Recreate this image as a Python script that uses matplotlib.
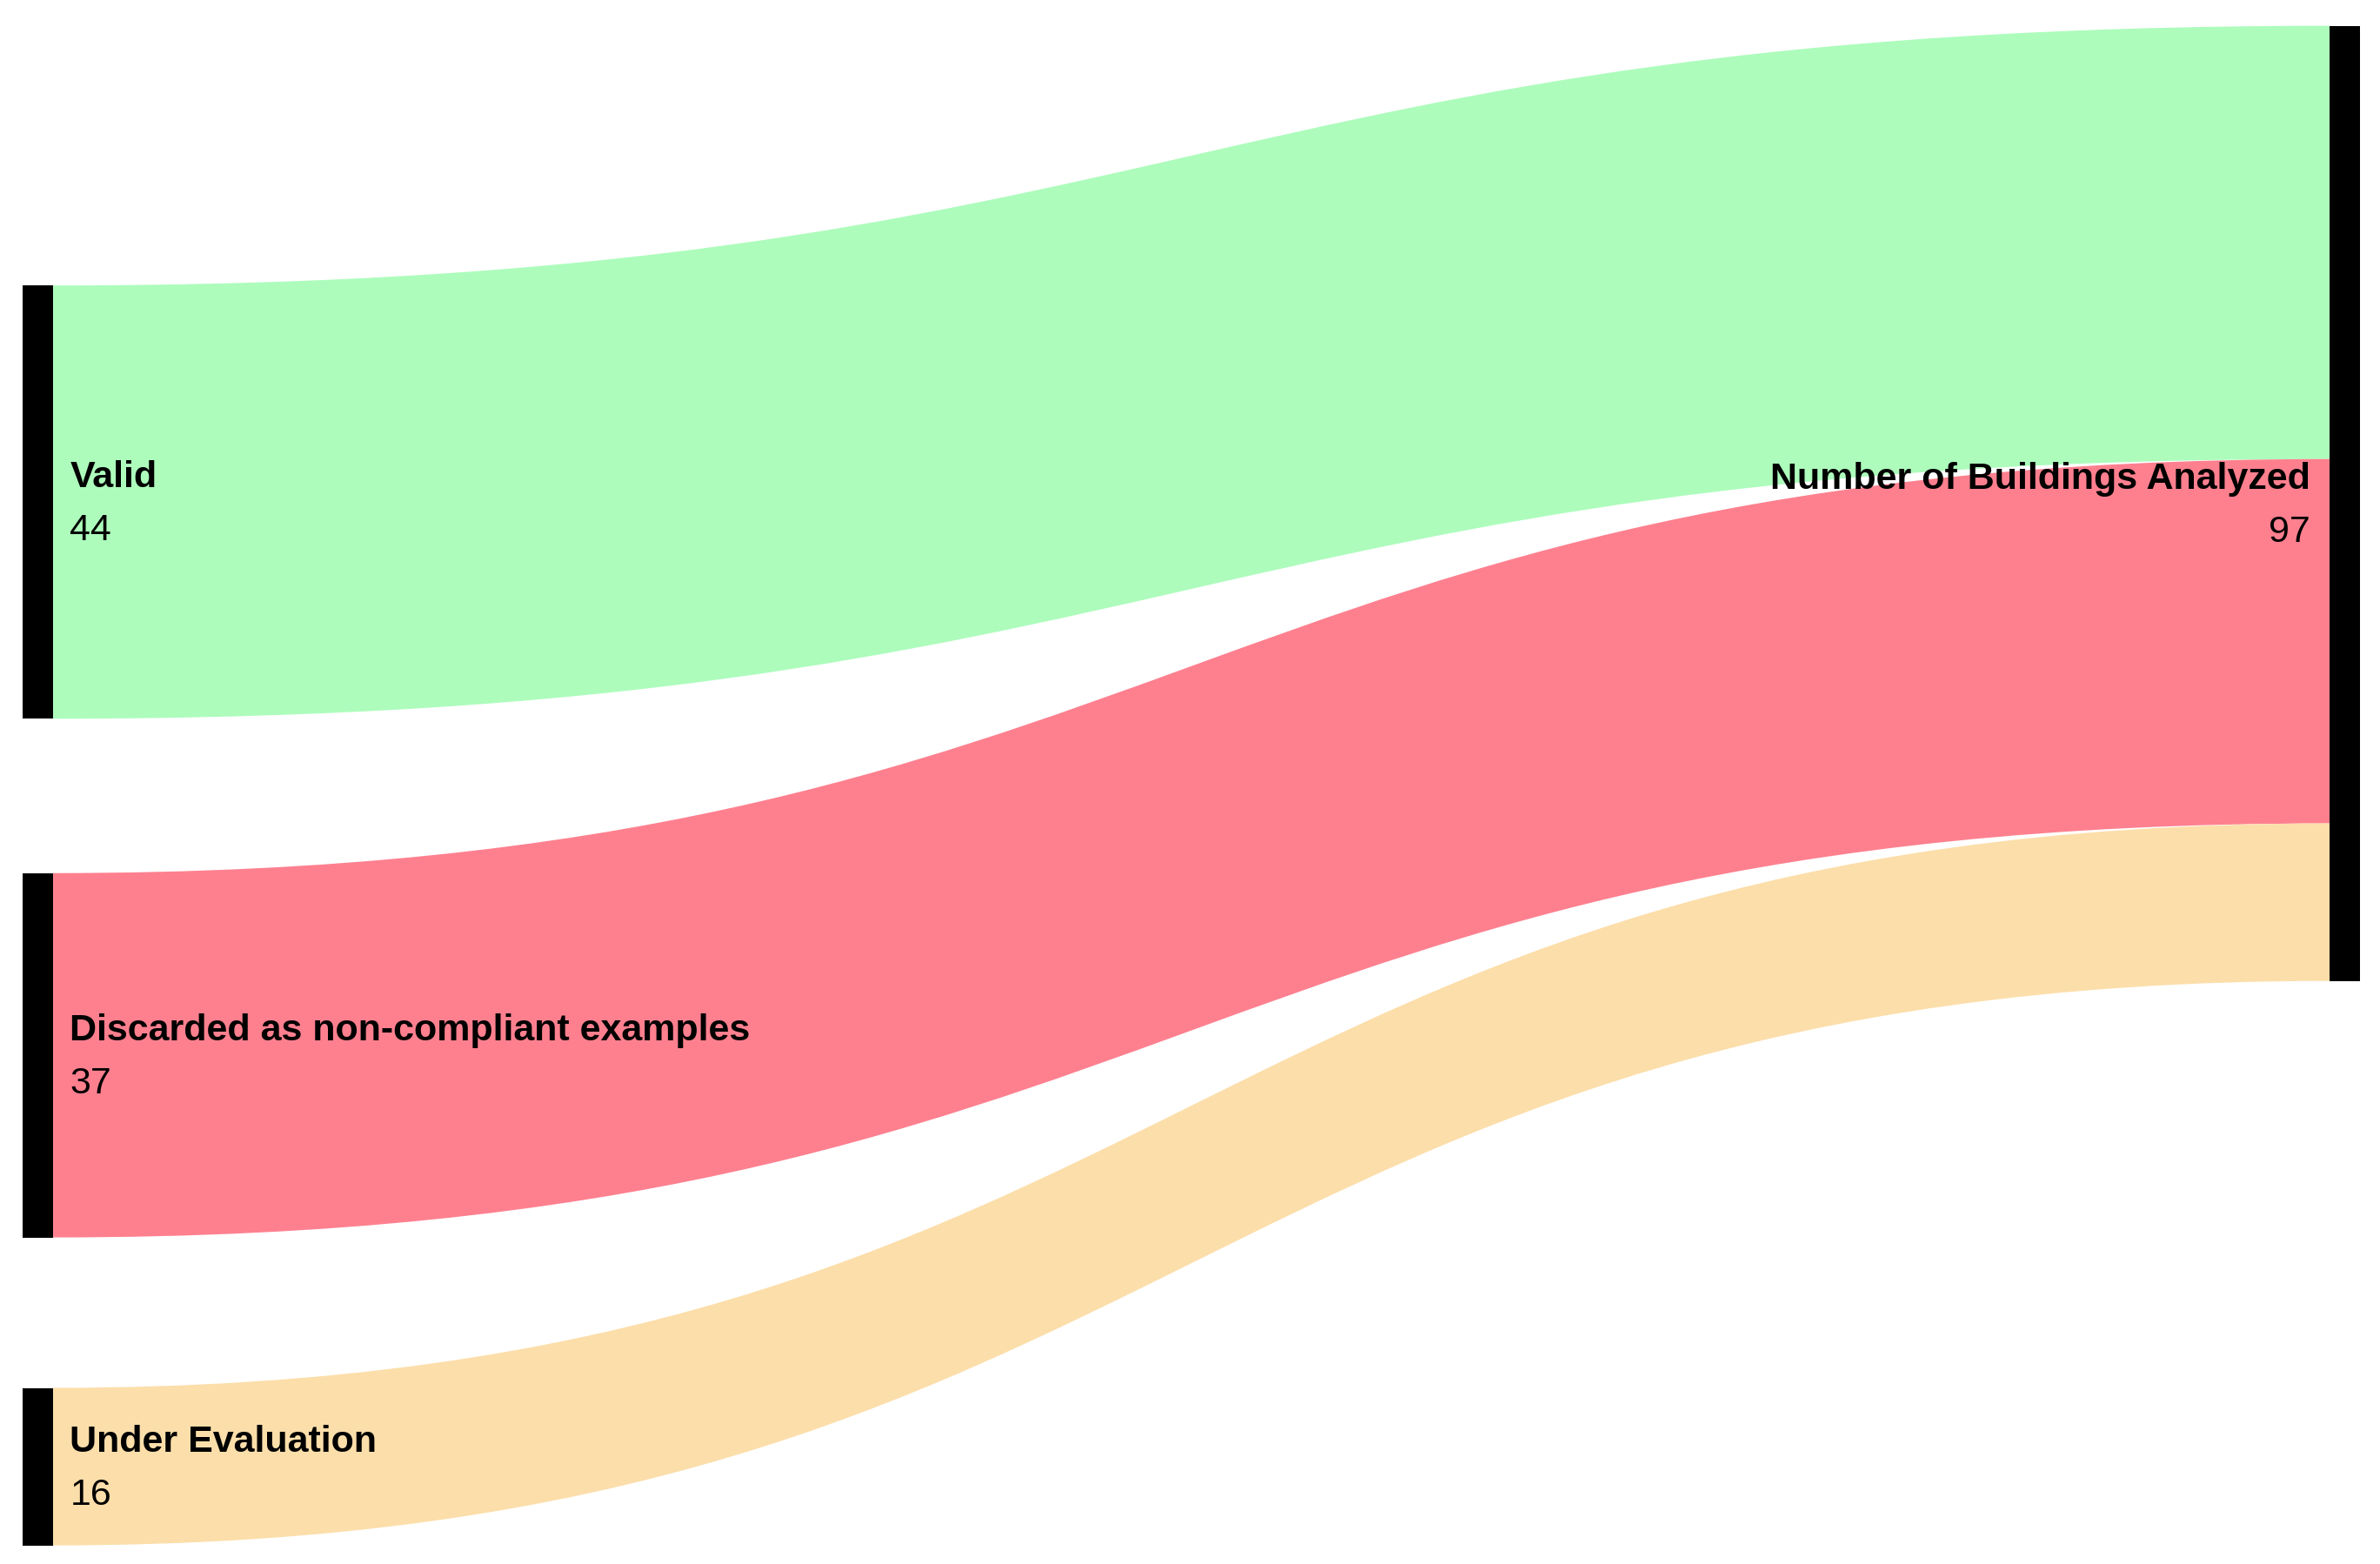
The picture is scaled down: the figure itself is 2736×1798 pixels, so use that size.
import matplotlib
matplotlib.use("Agg")
import matplotlib.pyplot as plt
from matplotlib.path import Path
from matplotlib.patches import PathPatch, Rectangle

sources = ["Valid", "Discarded as non-compliant examples", "Under Evaluation"]
values = [44, 37, 16]
target = "Number of Buildings Analyzed"
colors = ["#adfcbc", "#fe808f", "#fcdeaa"]

W, H = 1568, 1030
fig = plt.figure(figsize=(27.36, 17.98), dpi=100)
ax = fig.add_axes([0, 0, 1, 1])
ax.set_xlim(0, W); ax.set_ylim(H, 0); ax.axis("off")

total = sum(values)
scale = 629 / total
left_x0, left_x1 = 15, 35
right_x0, right_x1 = 1535, 1555
left_tops = [188, 575, 914]
right_top = 17
font = dict(family=["Liberation Sans", "DejaVu Sans"], fontsize=31)

ry = right_top
for name, v, c, ly in zip(sources, values, colors, left_tops):
    h = v * scale
    xm = (left_x1 + right_x0) / 2
    verts = [(left_x1, ly), (xm, ly), (xm, ry), (right_x0, ry),
             (right_x0, ry + h), (xm, ry + h), (xm, ly + h), (left_x1, ly + h), (left_x1, ly)]
    codes = [Path.MOVETO, Path.CURVE4, Path.CURVE4, Path.CURVE4,
             Path.LINETO, Path.CURVE4, Path.CURVE4, Path.CURVE4, Path.CLOSEPOLY]
    ax.add_patch(PathPatch(Path(verts, codes), fc=c, ec="none"))
    ax.add_patch(Rectangle((left_x0, ly), left_x1 - left_x0, h, fc="black", ec="none"))
    cy = ly + h / 2
    ax.text(46, cy - 16, name, ha="left", va="center", fontweight="bold", **font)
    ax.text(46, cy + 19, str(v), ha="left", va="center", **font)
    ry += h

ax.add_patch(Rectangle((right_x0, right_top), right_x1 - right_x0, total * scale, fc="black", ec="none"))
cy = right_top + total * scale / 2
ax.text(1522, cy - 16, target, ha="right", va="center", fontweight="bold", **font)
ax.text(1522, cy + 19, str(total), ha="right", va="center", **font)

fig.savefig("out.png", dpi=100)
